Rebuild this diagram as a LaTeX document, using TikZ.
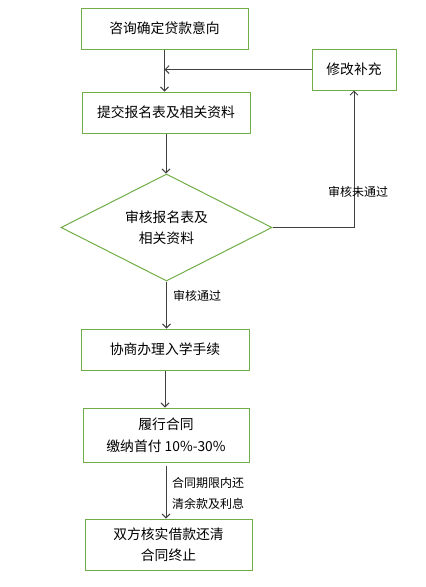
\documentclass[tikz,border=0pt]{standalone}
\usepackage{fontspec}
\usepackage{tikz}
\usetikzlibrary{arrows.meta,shapes.geometric}
\newfontfamily\cjk{Noto Sans CJK SC}
\definecolor{boxgreen}{HTML}{70AD47}
\definecolor{arrgray}{HTML}{404040}

\begin{document}
\begin{tikzpicture}[x=1pt, y=-1pt,
    box/.style={draw=boxgreen, line width=1pt, minimum height=41pt, align=center, inner sep=0pt, font=\cjk\fontsize{13.8}{21.5}\selectfont},
    cond/.style={box, diamond, minimum width=211pt, minimum height=107pt, shape aspect=1.97},
    lbl/.style={font=\cjk\fontsize{12}{21}\selectfont, align=left, inner sep=0pt},
    arr/.style={draw=arrgray, line width=0.9pt, -{Straight Barb[length=4pt,width=8pt]}}]
    \useasboundingbox (0,0) rectangle (426,587);
    \node[box, minimum width=167pt] (ask) at (164.5,28.5) {咨询确定贷款意向};
    \node[box, minimum width=84pt] (fix) at (354,69.5) {修改补充};
    \node[box, minimum width=168pt] (submit) at (166,112.5) {提交报名表及相关资料};
    \node[cond] (check) at (166.5,227.5) {审核报名表及\\相关资料};
    \node[box, minimum width=168pt] (enrol) at (165,349.5) {协商办理入学手续};
    \node[box, minimum width=166pt, minimum height=54pt] (pay) at (166,435) {履行合同\\缴纳首付 10\%-30\%};
    \node[box, minimum width=167pt, minimum height=51pt] (done) at (168.5,544.5) {双方核实借款还清\\合同终止};
    \draw[arr] (ask.south) -- (ask.south |- submit.north);
    \draw[arr] (fix.west) -- (ask.south |- fix.west);
    \draw[arr] (submit.south) -- (submit.south |- check.north);
    \draw[arr] (check.east) -| (fix.south); %NON PASSA
    \draw[arr] (check.south) -- (check.south |- enrol.north);
    \draw[arr] (enrol.south) -- (enrol.south |- pay.north);
    \draw[arr] (pay.south) ++(0,3) -- (pay.south |- done.north);
    \node[lbl] (nopass) at (358,192) {审核未通过};
    \node[lbl, anchor=west] (pass) at (173,296) {审核通过};
    \node[lbl, anchor=west] (repay) at (172,493.5) {合同期限内还\\清余款及利息};
\end{tikzpicture}
\end{document}
